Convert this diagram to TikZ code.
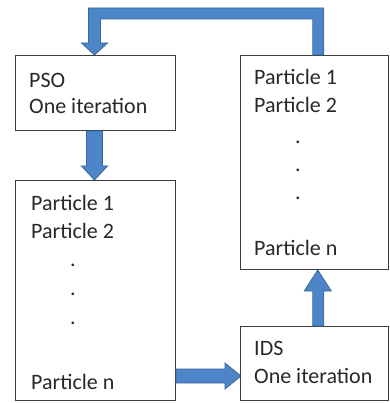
\documentclass[tikz,border=0pt]{standalone}
\usepackage{fontspec}
\setmainfont{Carlito}
\usetikzlibrary{calc}
\definecolor{boxgray}{RGB}{60,60,60}
\definecolor{textgray}{RGB}{40,40,40}
\definecolor{arrowfill}{RGB}{76,134,200}
\definecolor{arrowedge}{RGB}{58,102,155}
\begin{document}
\begin{tikzpicture}[x=1pt,y=-1pt,
  box/.style={draw=boxgray, line width=1pt, inner sep=0pt, anchor=north west, fill=white},
  txt/.style={anchor=base west, inner sep=0pt, font=\fontsize{22}{26}\selectfont, text=textgray},
  dotmark/.style={anchor=base, inner sep=0pt, font=\fontsize{22}{26}\selectfont, text=textgray},
  blockarrow/.style={fill=arrowfill, draw=arrowedge, line width=0.8pt, line join=miter}]
\useasboundingbox (0,0) rectangle (389,403);

% boxes
\node[box, minimum width=160pt, minimum height=75pt] (pso) at (15,55) {};
\node[box, minimum width=160pt, minimum height=220pt] (low) at (15,180) {};
\node[box, minimum width=147.5pt, minimum height=214pt] (rt) at (240,55) {};
\node[box, minimum width=147.5pt, minimum height=74pt] (ids) at (240,326) {};

% texts
\node[txt] (t1) at (29,88) {PSO};
\node[txt] (t2) at (29,114) {One iteration};

\node[txt] (l1) at (31,210) {Particle 1};
\node[txt] (l2) at (31,238) {Particle 2};
\node[dotmark] (ld1) at (73,266.5) {.};
\node[dotmark] (ld2) at (73,295.5) {.};
\node[dotmark] (ld3) at (73,324.5) {.};
\node[txt] (ln) at (31,389) {Particle n};

\node[txt] (r1) at (254,85) {Particle 1};
\node[txt] (r2) at (254,113) {Particle 2};
\node[dotmark] (rd1) at (298,143.5) {.};
\node[dotmark] (rd2) at (298,171.5) {.};
\node[dotmark] (rd3) at (298,199.5) {.};
\node[txt] (rn) at (254,255) {Particle n};

\node[txt] (i1) at (254,355) {IDS};
\node[txt] (i2) at (254,383) {One iteration};

% PSO -> lower box
\draw[blockarrow]
  ($(pso.south)+(-9,0)$) -- ($(low.north)+(-9,-14)$) -- ($(low.north)+(-14,-14)$)
  -- ($(low.north)+(-1,0)$) -- ($(low.north)+(12,-14)$) -- ($(low.north)+(7,-14)$)
  -- ($(pso.south)+(7,0)$) -- cycle;

% lower box -> IDS
\draw[blockarrow]
  ($(low.south east)+(0,-32)$) -- ($(ids.south west)+(-15,-32)$) -- ($(ids.south west)+(-15,-38)$)
  -- ($(ids.south west)+(1,-25)$) -- ($(ids.south west)+(-15,-12)$) -- ($(ids.south west)+(-15,-18)$)
  -- ($(low.south east)+(0,-18)$) -- cycle;

% IDS -> right box
\draw[blockarrow]
  ($(ids.north)+(-1.5,0)$) -- ($(rt.south)+(-1.5,21)$) -- ($(rt.south)+(-10,21)$)
  -- ($(rt.south)+(3.5,0)$) -- ($(rt.south)+(17,21)$) -- ($(rt.south)+(9.5,21)$)
  -- ($(ids.north)+(9.5,0)$) -- cycle;

% right box -> PSO (bent)
\draw[blockarrow]
  ($(rt.north)+(9.5,0)$) -- ($(rt.north)+(9.5,-47)$) -- ($(pso.north)+(-7,-47)$)
  -- ($(pso.north)+(-7,-12)$) -- ($(pso.north)+(-14,-12)$) -- ($(pso.north)+(-1,0)$)
  -- ($(pso.north)+(12,-12)$) -- ($(pso.north)+(5,-12)$) -- ($(pso.north)+(5,-36)$)
  -- ($(rt.north)+(-1.5,-36)$) -- ($(rt.north)+(-1.5,0)$) -- cycle;
\end{tikzpicture}
\end{document}
